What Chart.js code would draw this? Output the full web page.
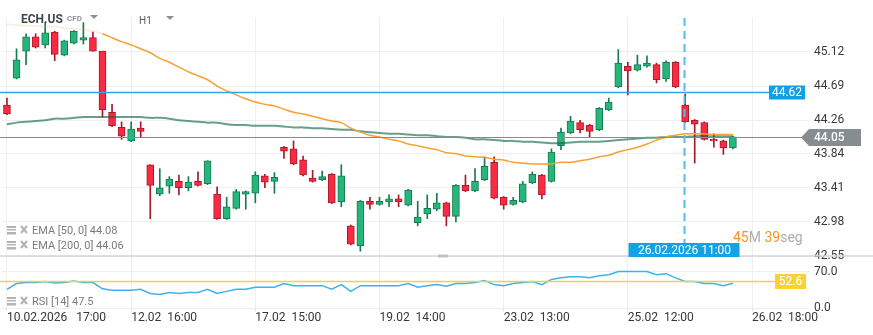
<!DOCTYPE html>
<html>
<head>
<meta charset="utf-8">
<script src="https://cdn.jsdelivr.net/npm/chart.js@4.4.1/dist/chart.umd.min.js"></script>
<style>
  html, body { margin: 0; padding: 0; background: #fff; }
  #wrap { width: 873px; height: 335px; }
</style>
</head>
<body>
<div id="wrap"><canvas id="chart" width="873" height="335"></canvas></div>
<script>
// ECH.US, H1 candles
const symbol = 'ECH.US';
const period = 'H1';

const candleOpen  = [44.45,44.79,45.13,45.31,45.21,45.37,45.08,45.23,45.27,45.30,45.13,44.36,44.17,44.00,44.16,43.70,43.33,43.43,43.49,43.41,43.49,43.46,43.33,43.02,43.15,43.33,43.34,43.56,43.49,43.92,43.90,43.76,43.53,43.51,43.58,43.23,42.93,42.68,43.24,43.20,43.23,43.27,43.19,42.97,43.08,43.14,43.22,43.05,43.44,43.37,43.51,43.73,43.29,43.20,43.23,43.47,43.57,43.49,43.94,44.10,44.23,44.20,44.14,44.39,44.68,44.94,44.89,44.94,44.96,44.78,44.99,44.45,44.26,44.23,44.02,44.00,43.91];
const candleHigh  = [44.54,45.16,45.35,45.35,45.49,45.38,45.27,45.39,45.49,45.37,45.13,44.46,44.24,44.24,44.24,43.70,43.65,43.55,43.57,43.55,43.61,43.75,43.42,43.29,43.39,43.37,43.61,43.58,43.60,43.93,44.00,43.81,43.63,43.62,43.59,43.70,42.94,43.25,43.29,43.29,43.32,43.32,43.39,43.24,43.32,43.34,43.23,43.45,43.57,43.65,43.80,43.80,43.30,43.29,43.49,43.61,43.58,43.90,44.16,44.31,44.26,44.21,44.42,44.54,45.15,44.99,45.08,45.07,44.98,45.01,45.00,44.59,44.27,44.24,44.09,44.01,44.06];
const candleLow   = [44.33,44.78,44.96,45.17,45.17,45.01,45.07,45.22,45.22,45.13,44.30,44.18,44.02,43.99,44.04,43.02,43.31,43.34,43.32,43.37,43.43,43.45,43.01,43.01,43.14,43.14,43.22,43.41,43.34,43.78,43.70,43.56,43.48,43.50,43.21,43.17,42.69,42.61,43.14,43.19,43.17,43.17,43.18,42.93,43.02,43.12,42.93,42.98,43.36,43.36,43.50,43.27,43.14,43.19,43.22,43.46,43.27,43.48,43.89,44.09,44.10,44.05,44.13,44.38,44.67,44.58,44.88,44.93,44.73,44.75,44.67,44.23,43.72,44.01,43.92,43.83,43.90];
const candleClose = [44.34,45.02,45.31,45.18,45.36,45.09,45.26,45.38,45.30,45.13,44.39,44.19,44.06,44.15,44.12,43.44,43.41,43.52,43.41,43.48,43.44,43.75,43.02,43.17,43.36,43.36,43.57,43.48,43.54,43.87,43.71,43.57,43.49,43.55,43.22,43.56,42.70,43.24,43.20,43.24,43.27,43.23,43.38,43.04,43.15,43.22,43.05,43.44,43.37,43.49,43.68,43.28,43.19,43.25,43.46,43.58,43.32,43.86,44.11,44.25,44.14,44.12,44.41,44.49,44.98,44.88,44.96,44.98,44.77,44.99,44.68,44.24,44.21,44.02,44.00,43.91,44.05];

const ema50  = [45.47,45.46,45.45,45.45,45.44,45.44,45.42,45.41,45.40,45.38,45.35,45.30,45.25,45.21,45.16,45.11,45.04,44.99,44.93,44.87,44.82,44.77,44.69,44.63,44.58,44.53,44.49,44.46,44.44,44.40,44.36,44.34,44.31,44.28,44.25,44.23,44.16,44.11,44.07,44.05,44.02,44.00,43.96,43.94,43.91,43.89,43.85,43.84,43.81,43.80,43.79,43.77,43.76,43.73,43.72,43.71,43.71,43.71,43.73,43.73,43.75,43.77,43.80,43.82,43.86,43.89,43.92,43.96,44.01,44.05,44.07,44.09,44.09,44.09,44.08,44.08,44.08];
const ema200 = [44.21,44.23,44.24,44.25,44.26,44.28,44.28,44.29,44.30,44.30,44.30,44.30,44.30,44.30,44.30,44.29,44.29,44.28,44.26,44.25,44.24,44.23,44.23,44.21,44.20,44.20,44.19,44.19,44.19,44.18,44.17,44.17,44.16,44.16,44.15,44.14,44.14,44.12,44.11,44.10,44.09,44.09,44.08,44.07,44.07,44.06,44.05,44.05,44.04,44.02,44.02,44.01,44.00,44.00,43.99,43.99,43.98,43.97,43.97,43.98,43.99,43.99,43.99,44.00,44.01,44.02,44.03,44.04,44.04,44.05,44.05,44.05,44.06,44.06,44.06,44.06,44.06];
const rsi14  = [36,47,49,49,51,48,49,52,49,49,37,34,34,34,36,28,26,30,28,30,30,36,28,32,36,36,40,40,40,47,43,43,43,43,36,45,32,43,43,43,43,43,47,40,43,45,42,47,47,49,53,45,43,47,49,51,45,55,58,60,60,58,62,64,70,70,70,70,64,66,58,51,51,47,47,43,47.5];

// axis ticks
const timeTickIndex  = [0, 13, 26, 39, 52, 65, 78];
const timeTickLabels = ['10.02.2026   17:00', '12.02  16:00', '17.02  15:00', '19.02  14:00', '23.02  13:00', '25.02  12:00', '26.02  18:00'];
const priceTicks = [42.55, 42.98, 43.41, 43.84, 44.26, 44.69, 45.12];
const rsiTicks   = [0, 70];

// levels and markers
const askLevel = 44.62;
const lastPrice = 44.05;
const rsiLevel = 52.6;
const cursorIndex = 71;
const cursorLabel = '26.02.2026 11:00';

const UP = '#26b57b', UP_EDGE = '#177a50';
const DOWN = '#fa2a43', DOWN_EDGE = '#a8192b';
const FONT = 'Roboto, "Noto Sans", sans-serif';

const isUp = candleClose.map((c, i) => c >= candleOpen[i]);

const overlay = {
  id: 'overlay',
  afterDatasetsDraw(chart) {
    const { ctx, chartArea: a, scales } = chart;
    const py = scales.y, ry = scales.rsi, sx = scales.x;
    ctx.save();

    // pane separator + resize handle
    ctx.strokeStyle = '#d4d4d4';
    ctx.lineWidth = 1.5;
    ctx.beginPath(); ctx.moveTo(0, py.bottom); ctx.lineTo(chart.width, py.bottom); ctx.stroke();
    ctx.fillStyle = '#c2c2c2';
    ctx.fillRect(438, py.bottom - 1.5, 10, 3);

    // ask line
    const ya = Math.round(py.getPixelForValue(askLevel)) + 0.5;
    ctx.strokeStyle = '#2ba6e6';
    ctx.lineWidth = 1.5;
    ctx.beginPath(); ctx.moveTo(0, ya); ctx.lineTo(769, ya); ctx.stroke();
    ctx.fillStyle = '#0ea1e8';
    ctx.fillRect(769, ya - 7, 36, 14);
    ctx.fillStyle = '#fff';
    ctx.font = '12px ' + FONT;
    ctx.textAlign = 'center'; ctx.textBaseline = 'middle';
    ctx.fillText(askLevel.toFixed(2), 787, ya + 0.5);

    // last price line and tag
    const yl = Math.round(py.getPixelForValue(lastPrice)) + 0.5;
    ctx.strokeStyle = '#858b8e';
    ctx.lineWidth = 1;
    ctx.beginPath(); ctx.moveTo(0, yl); ctx.lineTo(a.right, yl); ctx.stroke();
    ctx.fillStyle = '#868d91';
    ctx.beginPath();
    ctx.moveTo(801, yl); ctx.lineTo(809, yl - 8.5); ctx.lineTo(861, yl - 8.5);
    ctx.lineTo(861, yl + 8.5); ctx.lineTo(809, yl + 8.5); ctx.closePath();
    ctx.fill();
    ctx.fillStyle = '#fff';
    ctx.font = '500 12px ' + FONT;
    ctx.textAlign = 'left';
    ctx.fillText(lastPrice.toFixed(2), 814, yl + 0.5);

    // rsi level line and tag
    const yr = Math.round(ry.getPixelForValue(rsiLevel)) + 0.5;
    ctx.strokeStyle = '#f5cf3c';
    ctx.lineWidth = 1.5;
    ctx.beginPath(); ctx.moveTo(0, yr); ctx.lineTo(775, yr); ctx.stroke();
    ctx.fillStyle = '#fbd234';
    ctx.fillRect(775, yr - 7.5, 31, 15);
    ctx.fillStyle = '#fff';
    ctx.font = '12px ' + FONT;
    ctx.textAlign = 'center';
    ctx.fillText(rsiLevel.toFixed(1), 790.5, yr + 0.5);

    // crosshair at the selected candle
    const xc = Math.round(sx.getPixelForValue(cursorIndex)) - 0.5;
    ctx.strokeStyle = '#56bcef';
    ctx.lineWidth = 2;
    ctx.setLineDash([8, 5]);
    ctx.beginPath(); ctx.moveTo(xc, a.top); ctx.lineTo(xc, 243); ctx.stroke();
    ctx.setLineDash([]);
    ctx.fillStyle = '#12a3e7';
    ctx.fillRect(xc - 56, 243, 111, 14);
    ctx.fillStyle = '#fff';
    ctx.font = '12px ' + FONT;
    ctx.fillText(cursorLabel, xc, 250.5);

    ctx.restore();
  },
  afterDraw(chart) {
    const { ctx } = chart;
    ctx.save();
    ctx.textBaseline = 'alphabetic';
    ctx.textAlign = 'left';

    // header
    ctx.fillStyle = '#3b4651';
    ctx.font = 'bold 12px ' + FONT;
    ctx.fillText(symbol, 21, 23);
    ctx.fillStyle = '#8e949a';
    ctx.font = 'bold 8px ' + FONT;
    ctx.fillText('CFD', 67, 21);
    ctx.fillStyle = '#525c66';
    ctx.font = '10px ' + FONT;
    ctx.fillText(period, 139, 24);
    ctx.fillStyle = '#8a8f94';
    [[90, 15], [166, 16]].forEach(([tx, ty]) => {
      ctx.beginPath(); ctx.moveTo(tx, ty); ctx.lineTo(tx + 8, ty); ctx.lineTo(tx + 4, ty + 4); ctx.closePath(); ctx.fill();
    });

    // countdown to candle close
    ctx.font = '14px ' + FONT;
    let cx = 733;
    [['45', '#f7941d'], ['M', '#acacac'], [' 39', '#f7941d'], ['seg', '#acacac']].forEach(([t, c]) => {
      ctx.fillStyle = c;
      ctx.fillText(t, cx, 242);
      cx += ctx.measureText(t).width;
    });

    // indicator legend
    const rows = [
      ['EMA [50, 0] ' + ema50[ema50.length - 1].toFixed(2), 231],
      ['EMA [200, 0] ' + ema200[ema200.length - 1].toFixed(2), 246],
      ['RSI [14] ' + rsi14[rsi14.length - 1].toFixed(1), 302]
    ];
    rows.forEach(([t, yy]) => {
      ctx.fillStyle = '#b3b3b3';
      ctx.fillRect(7, yy - 5, 9, 2);
      ctx.fillRect(7, yy - 2, 9, 1.5);
      ctx.fillRect(7, yy + 1, 9, 2.5);
      ctx.strokeStyle = '#b3b3b3';
      ctx.lineWidth = 2;
      ctx.beginPath();
      ctx.moveTo(21, yy - 5); ctx.lineTo(27, yy + 2);
      ctx.moveTo(27, yy - 5); ctx.lineTo(21, yy + 2);
      ctx.stroke();
      ctx.fillStyle = '#7b7b7b';
      ctx.font = '11px ' + FONT;
      ctx.textBaseline = 'middle';
      ctx.fillText(t, 32, yy);
      ctx.textBaseline = 'alphabetic';
    });
    ctx.restore();
  }
};

const gridColor = '#efefef';
const tickFont = { family: FONT, size: 12 };

new Chart(document.getElementById('chart'), {
  type: 'bar',
  data: {
    datasets: [
      {
        type: 'line', label: 'EMA 50', yAxisID: 'y', order: 0,
        data: ema50.map((v, i) => ({ x: i, y: v })),
        borderColor: '#f6a131', borderWidth: 1.5, pointRadius: 0, tension: 0.3,
        segment: { borderColor: c => c.p1DataIndex <= 10 ? 'rgba(247,170,90,0.25)' : undefined }
      },
      {
        type: 'line', label: 'EMA 200', yAxisID: 'y', order: 0,
        data: ema200.map((v, i) => ({ x: i, y: v })),
        borderColor: 'rgba(12,100,64,0.62)', borderWidth: 2, pointRadius: 0, tension: 0.3
      },
      {
        label: 'wick', yAxisID: 'y', order: 2, grouped: false,
        data: candleLow.map((l, i) => ({ x: i, y: [l, candleHigh[i]] })),
        backgroundColor: isUp.map(u => u ? UP_EDGE : DOWN_EDGE),
        barThickness: 1
      },
      {
        label: 'body', yAxisID: 'y', order: 1, grouped: false,
        data: candleOpen.map((o, i) => ({ x: i, y: [o, candleClose[i]] })),
        backgroundColor: isUp.map(u => u ? UP : DOWN),
        borderColor: isUp.map(u => u ? UP_EDGE : DOWN_EDGE),
        borderWidth: 1, borderSkipped: false,
        barThickness: 7
      },
      {
        type: 'line', label: 'RSI 14', yAxisID: 'rsi', order: 0,
        data: rsi14.map((v, i) => ({ x: i, y: v })),
        borderColor: '#3db2ee', borderWidth: 1.5, pointRadius: 0, tension: 0
      }
    ]
  },
  options: {
    responsive: false,
    animation: false,
    layout: { padding: { top: 18, left: 2, right: 0, bottom: 0 } },
    plugins: { legend: { display: false }, tooltip: { enabled: false } },
    scales: {
      x: {
        type: 'linear', min: -0.52, max: 84.07, offset: false,
        afterBuildTicks: s => { s.ticks = timeTickIndex.map(v => ({ value: v })); },
        afterFit: s => { s.height = 27; },
        ticks: {
          callback: (v, i) => timeTickLabels[i],
          align: 'start', autoSkip: false, maxRotation: 0,
          color: '#363636', font: tickFont, padding: 0
        },
        grid: { color: gridColor, offset: false, tickLength: 3, tickColor: '#dddddd' },
        border: { display: false }
      },
      y: {
        type: 'linear', position: 'right', stack: 'panes', stackWeight: 238, weight: 0,
        min: 42.55, max: 45.548,
        afterBuildTicks: s => { s.ticks = priceTicks.map(v => ({ value: v })); },
        afterFit: s => { s.width = 63; },
        ticks: { callback: v => v.toFixed(2), color: '#3a3a3a', font: tickFont, padding: 4 },
        grid: { color: gridColor, drawTicks: false },
        border: { display: false }
      },
      rsi: {
        type: 'linear', position: 'right', stack: 'panes', stackWeight: 52, weight: 1,
        min: 0, max: 100,
        afterBuildTicks: s => { s.ticks = rsiTicks.map(v => ({ value: v })); },
        afterFit: s => { s.width = 63; },
        ticks: { callback: v => v.toFixed(1), color: '#3a3a3a', font: tickFont, padding: 4 },
        grid: { color: gridColor, drawTicks: false },
        border: { display: false }
      }
    }
  },
  plugins: [overlay]
});
</script>
</body>
</html>
